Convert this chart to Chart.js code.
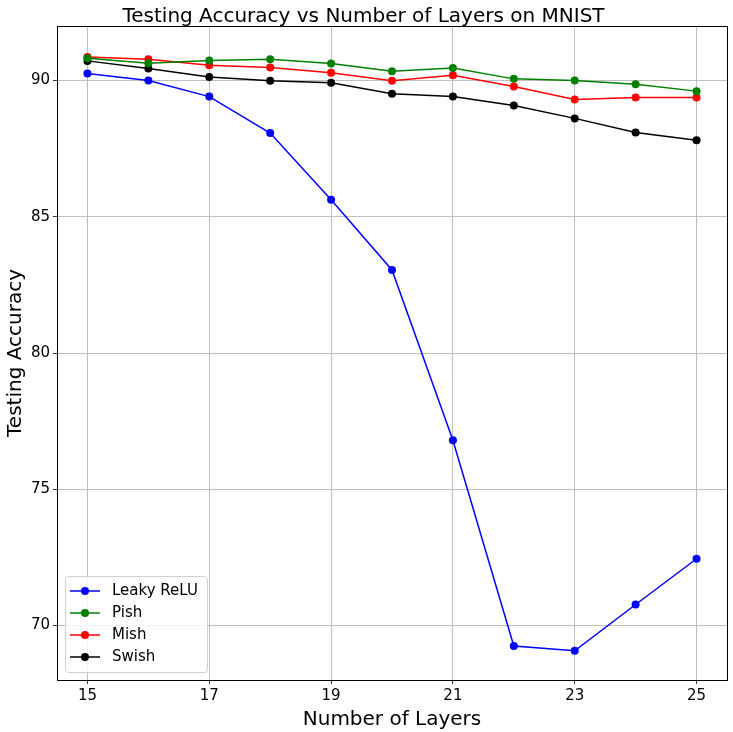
<!DOCTYPE html>
<html>
<head>
<meta charset="utf-8">
<script src="https://cdn.jsdelivr.net/npm/chart.js@4"></script>
<style>
  html, body { margin: 0; padding: 0; background: #fff; }
  #wrap { width: 733px; height: 732px; }
</style>
</head>
<body>
<div id="wrap"><canvas id="chart" width="733" height="732"></canvas></div>
<script>
// ─── DATA ─────────────────────────────────────────
const layers    = [15, 16, 17, 18, 19, 20, 21, 22, 23, 24, 25];
const leakyRelu = [90.26, 90.0, 89.41, 88.07, 85.62, 83.05, 76.8, 69.25, 69.07, 70.77, 72.45];
const pish      = [90.82, 90.63, 90.73, 90.78, 90.62, 90.34, 90.46, 90.06, 90.0, 89.86, 89.61];
const mish      = [90.86, 90.78, 90.56, 90.48, 90.28, 89.99, 90.19, 89.78, 89.3, 89.38, 89.38];
const swish     = [90.72, 90.44, 90.13, 89.99, 89.92, 89.51, 89.41, 89.08, 88.61, 88.09, 87.81];
const xTicks    = [15, 17, 19, 21, 23, 25];
const yTicks    = [70, 75, 80, 85, 90];

const FONT = "'DejaVu Sans', sans-serif";
Chart.defaults.font.family = FONT;
Chart.defaults.color = '#000';

function series(label, values, color) {
  return {
    label,
    data: layers.map((x, i) => ({ x, y: values[i] })),
    borderColor: color,
    backgroundColor: color,
    borderWidth: 1.5,
    pointRadius: 4,
    pointHoverRadius: 4,
    pointBorderWidth: 0,
    tension: 0
  };
}

// frame around the plot area, like matplotlib spines
const framePlugin = {
  id: 'frame',
  afterDraw(chart) {
    const { ctx, chartArea: a } = chart;
    ctx.save();
    ctx.strokeStyle = '#000';
    ctx.lineWidth = 1;
    ctx.strokeRect(a.left + 0.5, a.top + 0.5, a.right - a.left, a.bottom - a.top);
    ctx.restore();
  }
};

// legend drawn inside the plot, lower left
const insideLegend = {
  id: 'insideLegend',
  afterDraw(chart) {
    const { ctx, chartArea: a } = chart;
    const sets = chart.data.datasets;
    const x0 = a.left + 8, rowH = 22, h = sets.length * rowH + 8, w = 142;
    const y0 = a.bottom - 8 - h;
    ctx.save();
    ctx.fillStyle = 'rgba(255,255,255,0.8)';
    ctx.strokeStyle = '#d0d0d0';
    ctx.lineWidth = 1;
    ctx.beginPath();
    ctx.roundRect(x0 + 0.5, y0 + 0.5, w, h, 3);
    ctx.fill();
    ctx.stroke();
    ctx.font = '15px ' + FONT;
    ctx.textBaseline = 'middle';
    sets.forEach((ds, i) => {
      const cy = y0 + 15 + i * rowH;
      ctx.strokeStyle = ds.borderColor;
      ctx.lineWidth = 1.5;
      ctx.beginPath();
      ctx.moveTo(x0 + 5, cy);
      ctx.lineTo(x0 + 35, cy);
      ctx.stroke();
      ctx.fillStyle = ds.borderColor;
      ctx.beginPath();
      ctx.arc(x0 + 20, cy, 4, 0, Math.PI * 2);
      ctx.fill();
      ctx.fillStyle = '#000';
      ctx.fillText(ds.label, x0 + 47, cy);
    });
    ctx.restore();
  }
};

new Chart(document.getElementById('chart'), {
  type: 'line',
  data: {
    datasets: [
      series('Leaky ReLU', leakyRelu, '#0000ff'),
      series('Pish', pish, '#008000'),
      series('Mish', mish, '#ff0000'),
      series('Swish', swish, '#000000')
    ]
  },
  options: {
    responsive: false,
    animation: false,
    layout: { padding: { left: 0, right: 6, top: 0, bottom: 0 } },
    plugins: {
      legend: { display: false },
      tooltip: { enabled: false },
      title: {
        display: true,
        text: 'Testing Accuracy vs Number of Layers on MNIST',
        color: '#000',
        font: { size: 20, weight: 'normal' },
        padding: { top: 5, bottom: -3 }
      }
    },
    scales: {
      x: {
        type: 'linear',
        min: 14.5,
        max: 25.5,
        afterBuildTicks: s => { s.ticks = xTicks.map(v => ({ value: v })); },
        afterFit: s => { s.height = 52; },
        grid: { color: '#b0b0b0', lineWidth: 0.8, tickLength: 4, tickColor: '#000' },
        border: { display: false },
        ticks: { font: { size: 15 }, color: '#000', padding: 3, maxRotation: 0 },
        title: { display: true, text: 'Number of Layers', font: { size: 20 }, color: '#000', padding: 0 }
      },
      y: {
        min: 68,
        max: 92,
        afterBuildTicks: s => { s.ticks = yTicks.map(v => ({ value: v })); },
        afterFit: s => { s.width = 57; },
        grid: { color: '#b0b0b0', lineWidth: 0.8, tickLength: 4, tickColor: '#000' },
        border: { display: false },
        ticks: { font: { size: 15 }, color: '#000', padding: 3 },
        title: { display: true, text: 'Testing Accuracy', font: { size: 20 }, color: '#000', padding: { top: 4, bottom: 0 } }
      }
    }
  },
  plugins: [framePlugin, insideLegend]
});
</script>
</body>
</html>
